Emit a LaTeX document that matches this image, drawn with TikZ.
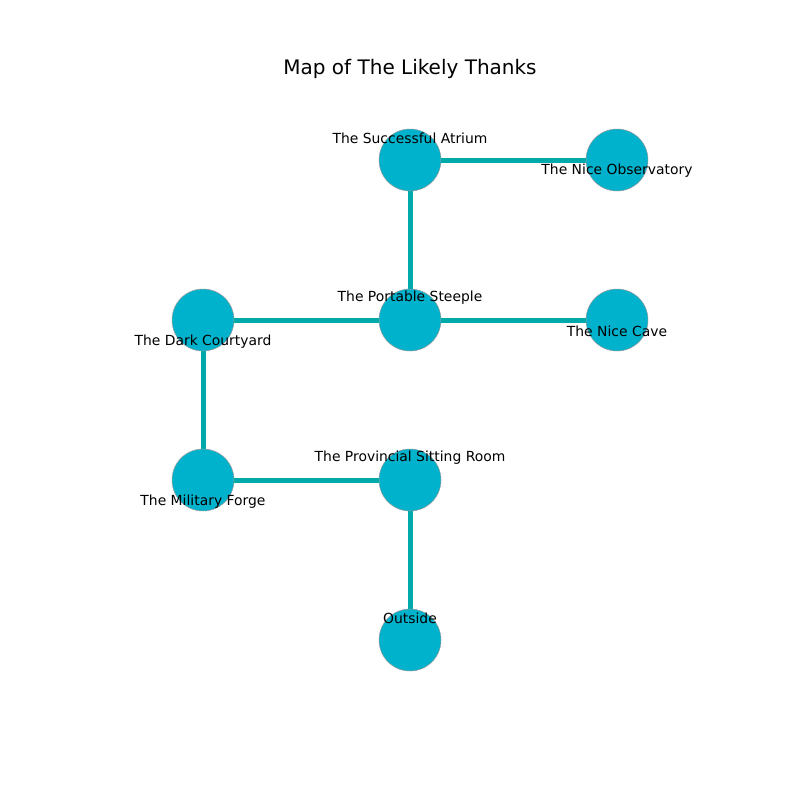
\documentclass[tikz,border=0pt]{standalone}
\usepackage{fontspec}
\setmainfont{DejaVu Sans}
\definecolor{nodefill}{HTML}{00B2CC}
\definecolor{edgecol}{HTML}{00AAAA}
\begin{document}
\begin{tikzpicture}[x=1pt,y=-1pt,
  room/.style={circle,fill=nodefill,draw=gray!80,line width=0.5pt,minimum size=62pt,inner sep=0pt},
  lbl/.style={font=\fontsize{13.9}{16}\selectfont,inner sep=0pt,anchor=center},
  link/.style={edgecol,line width=5pt}]
\useasboundingbox (0,0) rectangle (800,800);
\node[font=\fontsize{20}{24}\selectfont] (title) at (410,69) {Map of The Likely Thanks};
\coordinate (atriumc) at (410,160);
\coordinate (obsc) at (617,160);
\coordinate (steeplec) at (410,320);
\coordinate (courtc) at (203,320);
\coordinate (cavec) at (617,320);
\coordinate (forgec) at (203,480);
\coordinate (sittingc) at (410,480);
\coordinate (outsidec) at (410,640);
\draw[link] (atriumc) -- (obsc);
\draw[link] (atriumc) -- (steeplec);
\draw[link] (courtc) -- (steeplec);
\draw[link] (steeplec) -- (cavec);
\draw[link] (courtc) -- (forgec);
\draw[link] (forgec) -- (sittingc);
\draw[link] (sittingc) -- (outsidec);
\node[room] (atrium) at (atriumc) {};
\node[room] (obs) at (obsc) {};
\node[room] (steeple) at (steeplec) {};
\node[room] (court) at (courtc) {};
\node[room] (cave) at (cavec) {};
\node[room] (forge) at (forgec) {};
\node[room] (sitting) at (sittingc) {};
\node[room] (outside) at (outsidec) {};
\node[lbl] (l1) at (410,138) {The Successful Atrium};
\node[lbl] (l2) at (617,171) {The Nice Observatory};
\node[lbl] (l3) at (410,298) {The Portable Steeple};
\node[lbl] (l4) at (203,342) {The Dark Courtyard};
\node[lbl] (l5) at (617,331) {The Nice Cave};
\node[lbl] (l6) at (203,502) {The Military Forge};
\node[lbl] (l7) at (410,458) {The Provincial Sitting Room};
\node[lbl] (l8) at (410,618) {Outside};
\end{tikzpicture}
\end{document}
